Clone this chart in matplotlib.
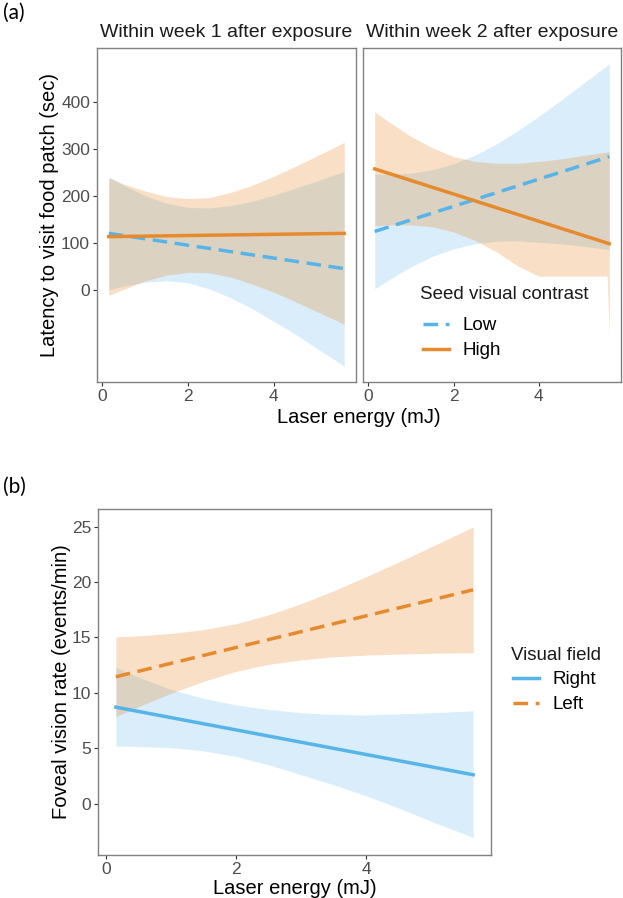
import matplotlib
matplotlib.use('Agg')
import matplotlib.pyplot as plt

plt.rcParams['font.family'] = ['Liberation Sans', 'DejaVu Sans']

# x grid of the confidence bands (mJ)
energy = [0.15, 0.5, 1, 1.5, 2, 2.5, 3, 3.5, 4, 4.5, 5, 5.6, 5.65]
line_x = [0.15, 5.65]

# (a) latency, week 1
w1_low = [121, 46]
w1_low_up = [241, 223, 201, 185, 176, 175, 180, 189, 202, 217, 232, 251, 254]
w1_low_lo = [1, 9, 17, 20, 16, 3, -16, -39, -66, -93, -123, -158, -162]
w1_high = [114, 121]
w1_high_up = [239, 226, 211, 199, 195, 197, 208, 223, 242, 263, 285, 312, 315]
w1_high_lo = [-11, 2, 20, 32, 38, 37, 28, 13, -4, -24, -45, -70, -73]

# (a) latency, week 2
w2_low = [125, 284]
w2_low_up = [247, 247, 249, 256, 269, 287, 311, 339, 370, 403, 437, 478, 482]
w2_low_lo = [3, 23, 50, 72, 88, 99, 104, 105, 102, 99, 94, 87, 86]
w2_high = [258, 99]
w2_high_up = [379, 357, 327, 303, 284, 274, 270, 270, 274, 279, 286, 294, 295]
w2_high_lo = [137, 139, 139, 135, 124, 106, 82, 52, 30, 30, 30, 30, -97]

# (b) foveal vision rate
right = [8.7, 2.6]
right_up = [12.3, 11.4, 10.3, 9.5, 8.9, 8.5, 8.2, 8.05, 8.0, 8.1, 8.2, 8.35, 8.4]
right_lo = [5.2, 5.15, 5.05, 4.75, 4.25, 3.5, 2.6, 1.7, 0.7, -0.4, -1.6, -2.95, -3.1]
left = [11.45, 19.3]
left_up = [15.05, 15.15, 15.36, 15.7, 16.24, 17.03, 18.04, 19.21, 20.48, 21.8, 23.17, 24.84, 24.98]
left_lo = [7.85, 8.75, 9.96, 11.04, 11.94, 12.57, 12.98, 13.25, 13.4, 13.5, 13.57, 13.62, 13.62]

BLUE = '#56B4E9'
ORANGE = '#E68A2E'
DASH = (4.2, 2.2)
LW = 2.5

W, H = 623, 898
fig = plt.figure(figsize=(W / 100, H / 100), dpi=100)


def px_axes(l, t, r, b):
    return fig.add_axes([l / W, 1 - b / H, (r - l) / W, (b - t) / H])


def style(ax, yticks, ylim, show_y=True):
    ax.set_xlim(-0.125, 5.925)
    ax.set_ylim(*ylim)
    ax.set_xticks([0, 2, 4])
    ax.set_yticks(yticks)
    for s in ax.spines.values():
        s.set_color('#808080')
        s.set_linewidth(1.0)
    ax.tick_params(length=3, width=0.8, color='#333333', labelcolor='#4D4D4D',
                   labelsize=12.5, pad=2)
    if not show_y:
        ax.tick_params(axis='y', left=False, labelleft=False)


def band(ax, up, lo, color, alpha):
    ax.fill_between(energy, lo, up, color=color, alpha=alpha, linewidth=0)


def key(ax, title, tx, ty, lx, ly):
    # legend title drawn apart so the gap under it matches the original
    ax.text(tx, ty, title, transform=ax.transAxes, ha='left', va='center',
            fontsize=13.5, color='#1A1A1A')
    ax.legend(loc='upper left', bbox_to_anchor=(lx, ly),
              bbox_transform=ax.transAxes, frameon=False, fontsize=13.5,
              handlelength=1.4, handletextpad=0.7, labelspacing=0.42,
              borderpad=0, borderaxespad=0)


# ---- panel (a)
ax1 = px_axes(97, 48, 356, 382)
ax2 = px_axes(363, 48, 621, 382)

for ax, lo_up, lo_lo, lo_y, hi_up, hi_lo, hi_y in [
        (ax1, w1_low_up, w1_low_lo, w1_low, w1_high_up, w1_high_lo, w1_high),
        (ax2, w2_low_up, w2_low_lo, w2_low, w2_high_up, w2_high_lo, w2_high)]:
    band(ax, lo_up, lo_lo, BLUE, 0.22)
    ax.plot(line_x, lo_y, color=BLUE, lw=LW, dashes=DASH, label='Low')
    band(ax, hi_up, hi_lo, ORANGE, 0.27)
    ax.plot(line_x, hi_y, color=ORANGE, lw=LW, label='High')

style(ax1, [0, 100, 200, 300, 400], (-195, 515))
style(ax2, [0, 100, 200, 300, 400], (-195, 515), show_y=False)

ax1.text(0.5, 1.045, 'Within week 1 after exposure', transform=ax1.transAxes,
         ha='center', va='center', fontsize=14, color='#1A1A1A')
ax2.text(0.5, 1.045, 'Within week 2 after exposure', transform=ax2.transAxes,
         ha='center', va='center', fontsize=14, color='#1A1A1A')

key(ax2, 'Seed visual contrast', 0.221, 0.262, 0.232, 0.194)

fig.text(50 / W, 1 - 215 / H, 'Latency to visit food patch (sec)', rotation=90,
         ha='center', va='center', fontsize=14.5)
fig.text(359 / W, 1 - 418 / H, 'Laser energy (mJ)', ha='center', va='center',
         fontsize=14.5)
fig.text(3 / W, 1 - 13 / H, '(a)', ha='left', va='center', fontsize=15,
         family=['Lato', 'DejaVu Sans'])

# ---- panel (b)
ax3 = px_axes(98, 509, 491, 855)
band(ax3, right_up, right_lo, BLUE, 0.22)
ax3.plot(line_x, right, color=BLUE, lw=LW, label='Right')
band(ax3, left_up, left_lo, ORANGE, 0.27)
ax3.plot(line_x, left, color=ORANGE, lw=LW, dashes=DASH, label='Left')
style(ax3, [0, 5, 10, 15, 20, 25], (-4.65, 26.6))

key(ax3, 'Visual field', 1.051, 0.578, 1.056, 0.531)

fig.text(62 / W, 1 - 682 / H, 'Foveal vision rate (events/min)', rotation=90,
         ha='center', va='center', fontsize=14.5)
fig.text(295 / W, 1 - 888 / H, 'Laser energy (mJ)', ha='center', va='center',
         fontsize=14.5)
fig.text(3 / W, 1 - 487 / H, '(b)', ha='left', va='center', fontsize=15,
         family=['Lato', 'DejaVu Sans'])

fig.savefig('out.png', dpi=100)
